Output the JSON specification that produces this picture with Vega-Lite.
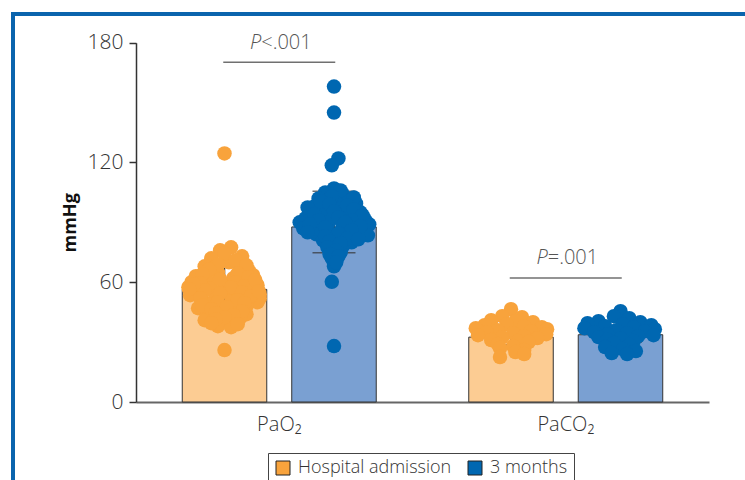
{
  "$schema": "https://vega.github.io/schema/vega-lite/v6.json",
  "width": 740,
  "height": 480,
  "autosize": {"type": "none"},
  "padding": {"left": 13, "top": 14, "right": 0, "bottom": 0},
  "background": "white",
  "config": {"view": {"stroke": "#0a64ad", "strokeWidth": 4}, "font": "Open Sans"},
  "datasets": {
    "summary": [
      {"variable": "PaO₂", "group": "Hospital admission", "mean": 56.4, "lo": 43.5, "hi": 69.6},
      {"variable": "PaO₂", "group": "3 months", "mean": 87.7, "lo": 74.8, "hi": 105.6},
      {"variable": "PaCO₂", "group": "Hospital admission", "mean": 32.5, "lo": 28.5, "hi": 37},
      {"variable": "PaCO₂", "group": "3 months", "mean": 33.7, "lo": 30, "hi": 37.5}
    ],
    "annot": [
      {"variable": "PaO₂", "ly": 170.2, "ty": 179.6, "label": "<.001"},
      {"variable": "PaCO₂", "ly": 62.1, "ty": 72, "label": "=.001"}
    ],
    "points": [
      {"variable": "PaO₂", "group": "Hospital admission", "value": 124.5, "jitter": 0},
      {"variable": "PaO₂", "group": "Hospital admission", "value": 26, "jitter": 0},
      {"variable": "PaO₂", "group": "Hospital admission", "value": 77.5, "jitter": 0.15},
      {"variable": "PaO₂", "group": "Hospital admission", "value": 76, "jitter": -0.1},
      {"variable": "PaO₂", "group": "Hospital admission", "value": 73, "jitter": 0.4},
      {"variable": "PaO₂", "group": "Hospital admission", "value": 72, "jitter": -0.3},
      {"variable": "PaO₂", "group": "Hospital admission", "value": 70, "jitter": 0.1},
      {"variable": "PaO₂", "group": "Hospital admission", "value": 68, "jitter": -0.45},
      {"variable": "PaO₂", "group": "Hospital admission", "value": 67, "jitter": 0.35},
      {"variable": "PaO₂", "group": "Hospital admission", "value": 66, "jitter": 0.55},
      {"variable": "PaO₂", "group": "Hospital admission", "value": 65, "jitter": -0.15},
      {"variable": "PaO₂", "group": "Hospital admission", "value": 63.5, "jitter": 0.65},
      {"variable": "PaO₂", "group": "Hospital admission", "value": 63, "jitter": -0.65},
      {"variable": "PaO₂", "group": "Hospital admission", "value": 62, "jitter": 0.2},
      {"variable": "PaO₂", "group": "Hospital admission", "value": 61, "jitter": -0.4},
      {"variable": "PaO₂", "group": "Hospital admission", "value": 60.5, "jitter": 0.45},
      {"variable": "PaO₂", "group": "Hospital admission", "value": 60, "jitter": -0.75},
      {"variable": "PaO₂", "group": "Hospital admission", "value": 59, "jitter": 0.0},
      {"variable": "PaO₂", "group": "Hospital admission", "value": 58.5, "jitter": 0.75},
      {"variable": "PaO₂", "group": "Hospital admission", "value": 57.5, "jitter": -0.82},
      {"variable": "PaO₂", "group": "Hospital admission", "value": 57, "jitter": -0.3},
      {"variable": "PaO₂", "group": "Hospital admission", "value": 56.5, "jitter": 0.35},
      {"variable": "PaO₂", "group": "Hospital admission", "value": 56, "jitter": 0.6},
      {"variable": "PaO₂", "group": "Hospital admission", "value": 55.5, "jitter": -0.6},
      {"variable": "PaO₂", "group": "Hospital admission", "value": 55, "jitter": 0.1},
      {"variable": "PaO₂", "group": "Hospital admission", "value": 54, "jitter": 0.8},
      {"variable": "PaO₂", "group": "Hospital admission", "value": 53.5, "jitter": -0.78},
      {"variable": "PaO₂", "group": "Hospital admission", "value": 53, "jitter": -0.2},
      {"variable": "PaO₂", "group": "Hospital admission", "value": 52.5, "jitter": 0.45},
      {"variable": "PaO₂", "group": "Hospital admission", "value": 52, "jitter": 0.8},
      {"variable": "PaO₂", "group": "Hospital admission", "value": 51, "jitter": -0.5},
      {"variable": "PaO₂", "group": "Hospital admission", "value": 50.5, "jitter": 0.15},
      {"variable": "PaO₂", "group": "Hospital admission", "value": 50, "jitter": 0.75},
      {"variable": "PaO₂", "group": "Hospital admission", "value": 49, "jitter": -0.3},
      {"variable": "PaO₂", "group": "Hospital admission", "value": 48, "jitter": 0.5},
      {"variable": "PaO₂", "group": "Hospital admission", "value": 47, "jitter": -0.6},
      {"variable": "PaO₂", "group": "Hospital admission", "value": 46, "jitter": 0.25},
      {"variable": "PaO₂", "group": "Hospital admission", "value": 45, "jitter": -0.1},
      {"variable": "PaO₂", "group": "Hospital admission", "value": 44, "jitter": 0.5},
      {"variable": "PaO₂", "group": "Hospital admission", "value": 43, "jitter": -0.4},
      {"variable": "PaO₂", "group": "Hospital admission", "value": 42, "jitter": 0.35},
      {"variable": "PaO₂", "group": "Hospital admission", "value": 41, "jitter": -0.45},
      {"variable": "PaO₂", "group": "Hospital admission", "value": 40, "jitter": 0.1},
      {"variable": "PaO₂", "group": "Hospital admission", "value": 38, "jitter": -0.15},
      {"variable": "PaO₂", "group": "Hospital admission", "value": 37.5, "jitter": 0.15},
      {"variable": "PaO₂", "group": "Hospital admission", "value": 74.5, "jitter": 0.0},
      {"variable": "PaO₂", "group": "Hospital admission", "value": 71, "jitter": 0.25},
      {"variable": "PaO₂", "group": "Hospital admission", "value": 69, "jitter": -0.15},
      {"variable": "PaO₂", "group": "Hospital admission", "value": 68.5, "jitter": 0.5},
      {"variable": "PaO₂", "group": "Hospital admission", "value": 66.5, "jitter": -0.35},
      {"variable": "PaO₂", "group": "Hospital admission", "value": 64.5, "jitter": 0.3},
      {"variable": "PaO₂", "group": "Hospital admission", "value": 64, "jitter": -0.5},
      {"variable": "PaO₂", "group": "Hospital admission", "value": 62.5, "jitter": 0.55},
      {"variable": "PaO₂", "group": "Hospital admission", "value": 61.5, "jitter": -0.1},
      {"variable": "PaO₂", "group": "Hospital admission", "value": 60, "jitter": 0.25},
      {"variable": "PaO₂", "group": "Hospital admission", "value": 59.5, "jitter": -0.55},
      {"variable": "PaO₂", "group": "Hospital admission", "value": 58, "jitter": 0.45},
      {"variable": "PaO₂", "group": "Hospital admission", "value": 57.5, "jitter": 0.15},
      {"variable": "PaO₂", "group": "Hospital admission", "value": 56, "jitter": -0.45},
      {"variable": "PaO₂", "group": "Hospital admission", "value": 55, "jitter": 0.4},
      {"variable": "PaO₂", "group": "Hospital admission", "value": 54.5, "jitter": -0.1},
      {"variable": "PaO₂", "group": "Hospital admission", "value": 53, "jitter": 0.6},
      {"variable": "PaO₂", "group": "Hospital admission", "value": 52, "jitter": -0.55},
      {"variable": "PaO₂", "group": "Hospital admission", "value": 51, "jitter": 0.3},
      {"variable": "PaO₂", "group": "Hospital admission", "value": 50, "jitter": -0.15},
      {"variable": "PaO₂", "group": "Hospital admission", "value": 49.5, "jitter": 0.45},
      {"variable": "PaO₂", "group": "Hospital admission", "value": 48.5, "jitter": -0.5},
      {"variable": "PaO₂", "group": "Hospital admission", "value": 47.5, "jitter": 0.05},
      {"variable": "PaO₂", "group": "Hospital admission", "value": 46.5, "jitter": -0.3},
      {"variable": "PaO₂", "group": "Hospital admission", "value": 45.5, "jitter": 0.4},
      {"variable": "PaO₂", "group": "Hospital admission", "value": 44.5, "jitter": -0.2},
      {"variable": "PaO₂", "group": "Hospital admission", "value": 43.5, "jitter": 0.2},
      {"variable": "PaO₂", "group": "Hospital admission", "value": 42.5, "jitter": 0.0},
      {"variable": "PaO₂", "group": "Hospital admission", "value": 41.5, "jitter": -0.2},
      {"variable": "PaO₂", "group": "Hospital admission", "value": 39.5, "jitter": -0.3},
      {"variable": "PaO₂", "group": "Hospital admission", "value": 39, "jitter": 0.3},
      {"variable": "PaO₂", "group": "Hospital admission", "value": 61, "jitter": 0.7},
      {"variable": "PaO₂", "group": "Hospital admission", "value": 59, "jitter": -0.7},
      {"variable": "PaO₂", "group": "Hospital admission", "value": 55.5, "jitter": 0.78},
      {"variable": "PaO₂", "group": "Hospital admission", "value": 56.5, "jitter": -0.8},

      {"variable": "PaO₂", "group": "3 months", "value": 158, "jitter": 0},
      {"variable": "PaO₂", "group": "3 months", "value": 145, "jitter": 0},
      {"variable": "PaO₂", "group": "3 months", "value": 122, "jitter": 0.1},
      {"variable": "PaO₂", "group": "3 months", "value": 118.6, "jitter": -0.05},
      {"variable": "PaO₂", "group": "3 months", "value": 60.2, "jitter": -0.05},
      {"variable": "PaO₂", "group": "3 months", "value": 28, "jitter": 0},
      {"variable": "PaO₂", "group": "3 months", "value": 107, "jitter": 0.0},
      {"variable": "PaO₂", "group": "3 months", "value": 105, "jitter": -0.2},
      {"variable": "PaO₂", "group": "3 months", "value": 104, "jitter": 0.2},
      {"variable": "PaO₂", "group": "3 months", "value": 102, "jitter": -0.35},
      {"variable": "PaO₂", "group": "3 months", "value": 101, "jitter": 0.35},
      {"variable": "PaO₂", "group": "3 months", "value": 100, "jitter": 0.05},
      {"variable": "PaO₂", "group": "3 months", "value": 99.5, "jitter": 0.5},
      {"variable": "PaO₂", "group": "3 months", "value": 98, "jitter": -0.45},
      {"variable": "PaO₂", "group": "3 months", "value": 97, "jitter": 0.15},
      {"variable": "PaO₂", "group": "3 months", "value": 96, "jitter": -0.55},
      {"variable": "PaO₂", "group": "3 months", "value": 95, "jitter": 0.6},
      {"variable": "PaO₂", "group": "3 months", "value": 94.5, "jitter": -0.2},
      {"variable": "PaO₂", "group": "3 months", "value": 93, "jitter": 0.35},
      {"variable": "PaO₂", "group": "3 months", "value": 92, "jitter": -0.65},
      {"variable": "PaO₂", "group": "3 months", "value": 91.5, "jitter": 0.7},
      {"variable": "PaO₂", "group": "3 months", "value": 90.5, "jitter": -0.1},
      {"variable": "PaO₂", "group": "3 months", "value": 90, "jitter": -0.78},
      {"variable": "PaO₂", "group": "3 months", "value": 89.5, "jitter": 0.45},
      {"variable": "PaO₂", "group": "3 months", "value": 89, "jitter": 0.8},
      {"variable": "PaO₂", "group": "3 months", "value": 88.5, "jitter": -0.45},
      {"variable": "PaO₂", "group": "3 months", "value": 88, "jitter": 0.2},
      {"variable": "PaO₂", "group": "3 months", "value": 87, "jitter": -0.7},
      {"variable": "PaO₂", "group": "3 months", "value": 86.5, "jitter": 0.6},
      {"variable": "PaO₂", "group": "3 months", "value": 86, "jitter": -0.15},
      {"variable": "PaO₂", "group": "3 months", "value": 85, "jitter": 0.3},
      {"variable": "PaO₂", "group": "3 months", "value": 84, "jitter": -0.4},
      {"variable": "PaO₂", "group": "3 months", "value": 83.5, "jitter": 0.77},
      {"variable": "PaO₂", "group": "3 months", "value": 82.5, "jitter": 0.05},
      {"variable": "PaO₂", "group": "3 months", "value": 81, "jitter": -0.25},
      {"variable": "PaO₂", "group": "3 months", "value": 80, "jitter": 0.4},
      {"variable": "PaO₂", "group": "3 months", "value": 79, "jitter": -0.1},
      {"variable": "PaO₂", "group": "3 months", "value": 78, "jitter": 0.2},
      {"variable": "PaO₂", "group": "3 months", "value": 76.5, "jitter": -0.05},
      {"variable": "PaO₂", "group": "3 months", "value": 75, "jitter": 0.15},
      {"variable": "PaO₂", "group": "3 months", "value": 72, "jitter": -0.05},
      {"variable": "PaO₂", "group": "3 months", "value": 68, "jitter": 0.0},
      {"variable": "PaO₂", "group": "3 months", "value": 106, "jitter": 0.15},
      {"variable": "PaO₂", "group": "3 months", "value": 103, "jitter": -0.05},
      {"variable": "PaO₂", "group": "3 months", "value": 102.5, "jitter": 0.45},
      {"variable": "PaO₂", "group": "3 months", "value": 100.5, "jitter": -0.3},
      {"variable": "PaO₂", "group": "3 months", "value": 99, "jitter": -0.1},
      {"variable": "PaO₂", "group": "3 months", "value": 98.5, "jitter": 0.3},
      {"variable": "PaO₂", "group": "3 months", "value": 97.5, "jitter": -0.6},
      {"variable": "PaO₂", "group": "3 months", "value": 96.5, "jitter": 0.45},
      {"variable": "PaO₂", "group": "3 months", "value": 95.5, "jitter": 0.0},
      {"variable": "PaO₂", "group": "3 months", "value": 94, "jitter": -0.45},
      {"variable": "PaO₂", "group": "3 months", "value": 93.5, "jitter": 0.65},
      {"variable": "PaO₂", "group": "3 months", "value": 92.5, "jitter": 0.1},
      {"variable": "PaO₂", "group": "3 months", "value": 91, "jitter": -0.35},
      {"variable": "PaO₂", "group": "3 months", "value": 91, "jitter": 0.4},
      {"variable": "PaO₂", "group": "3 months", "value": 90, "jitter": 0.25},
      {"variable": "PaO₂", "group": "3 months", "value": 89, "jitter": -0.55},
      {"variable": "PaO₂", "group": "3 months", "value": 88, "jitter": 0.6},
      {"variable": "PaO₂", "group": "3 months", "value": 87.5, "jitter": -0.2},
      {"variable": "PaO₂", "group": "3 months", "value": 86, "jitter": 0.4},
      {"variable": "PaO₂", "group": "3 months", "value": 85, "jitter": -0.6},
      {"variable": "PaO₂", "group": "3 months", "value": 84.5, "jitter": 0.1},
      {"variable": "PaO₂", "group": "3 months", "value": 83, "jitter": -0.2},
      {"variable": "PaO₂", "group": "3 months", "value": 82, "jitter": 0.3},
      {"variable": "PaO₂", "group": "3 months", "value": 81.5, "jitter": 0.55},
      {"variable": "PaO₂", "group": "3 months", "value": 80.5, "jitter": -0.1},
      {"variable": "PaO₂", "group": "3 months", "value": 79.5, "jitter": 0.15},
      {"variable": "PaO₂", "group": "3 months", "value": 77.5, "jitter": -0.15},
      {"variable": "PaO₂", "group": "3 months", "value": 76, "jitter": 0.05},
      {"variable": "PaO₂", "group": "3 months", "value": 74, "jitter": -0.1},
      {"variable": "PaO₂", "group": "3 months", "value": 73, "jitter": 0.1},
      {"variable": "PaO₂", "group": "3 months", "value": 70, "jitter": 0.05},

      {"variable": "PaCO₂", "group": "Hospital admission", "value": 46.5, "jitter": 0.0},
      {"variable": "PaCO₂", "group": "Hospital admission", "value": 43, "jitter": -0.2},
      {"variable": "PaCO₂", "group": "Hospital admission", "value": 42.5, "jitter": 0.25},
      {"variable": "PaCO₂", "group": "Hospital admission", "value": 41, "jitter": -0.45},
      {"variable": "PaCO₂", "group": "Hospital admission", "value": 40.5, "jitter": 0.1},
      {"variable": "PaCO₂", "group": "Hospital admission", "value": 40, "jitter": 0.5},
      {"variable": "PaCO₂", "group": "Hospital admission", "value": 39, "jitter": -0.1},
      {"variable": "PaCO₂", "group": "Hospital admission", "value": 38.5, "jitter": -0.6},
      {"variable": "PaCO₂", "group": "Hospital admission", "value": 38, "jitter": 0.3},
      {"variable": "PaCO₂", "group": "Hospital admission", "value": 37.5, "jitter": 0.7},
      {"variable": "PaCO₂", "group": "Hospital admission", "value": 37, "jitter": -0.8},
      {"variable": "PaCO₂", "group": "Hospital admission", "value": 36.5, "jitter": 0.82},
      {"variable": "PaCO₂", "group": "Hospital admission", "value": 36, "jitter": -0.3},
      {"variable": "PaCO₂", "group": "Hospital admission", "value": 35.5, "jitter": 0.45},
      {"variable": "PaCO₂", "group": "Hospital admission", "value": 35, "jitter": -0.55},
      {"variable": "PaCO₂", "group": "Hospital admission", "value": 34.5, "jitter": 0.05},
      {"variable": "PaCO₂", "group": "Hospital admission", "value": 34, "jitter": 0.8},
      {"variable": "PaCO₂", "group": "Hospital admission", "value": 33.5, "jitter": -0.75},
      {"variable": "PaCO₂", "group": "Hospital admission", "value": 33, "jitter": 0.3},
      {"variable": "PaCO₂", "group": "Hospital admission", "value": 32.5, "jitter": -0.2},
      {"variable": "PaCO₂", "group": "Hospital admission", "value": 32, "jitter": 0.6},
      {"variable": "PaCO₂", "group": "Hospital admission", "value": 31, "jitter": -0.45},
      {"variable": "PaCO₂", "group": "Hospital admission", "value": 30.5, "jitter": 0.15},
      {"variable": "PaCO₂", "group": "Hospital admission", "value": 30, "jitter": 0.4},
      {"variable": "PaCO₂", "group": "Hospital admission", "value": 29, "jitter": -0.3},
      {"variable": "PaCO₂", "group": "Hospital admission", "value": 28, "jitter": 0.05},
      {"variable": "PaCO₂", "group": "Hospital admission", "value": 27, "jitter": -0.25},
      {"variable": "PaCO₂", "group": "Hospital admission", "value": 26, "jitter": 0.3},
      {"variable": "PaCO₂", "group": "Hospital admission", "value": 25, "jitter": 0.1},
      {"variable": "PaCO₂", "group": "Hospital admission", "value": 24, "jitter": 0.3},
      {"variable": "PaCO₂", "group": "Hospital admission", "value": 22.5, "jitter": -0.25},

      {"variable": "PaCO₂", "group": "3 months", "value": 45.5, "jitter": 0.0},
      {"variable": "PaCO₂", "group": "3 months", "value": 43, "jitter": -0.15},
      {"variable": "PaCO₂", "group": "3 months", "value": 42, "jitter": 0.2},
      {"variable": "PaCO₂", "group": "3 months", "value": 40.5, "jitter": -0.5},
      {"variable": "PaCO₂", "group": "3 months", "value": 40, "jitter": 0.45},
      {"variable": "PaCO₂", "group": "3 months", "value": 39.5, "jitter": -0.75},
      {"variable": "PaCO₂", "group": "3 months", "value": 39, "jitter": 0.05},
      {"variable": "PaCO₂", "group": "3 months", "value": 38.5, "jitter": 0.7},
      {"variable": "PaCO₂", "group": "3 months", "value": 38, "jitter": -0.35},
      {"variable": "PaCO₂", "group": "3 months", "value": 37.5, "jitter": 0.3},
      {"variable": "PaCO₂", "group": "3 months", "value": 37, "jitter": -0.82},
      {"variable": "PaCO₂", "group": "3 months", "value": 36.5, "jitter": 0.78},
      {"variable": "PaCO₂", "group": "3 months", "value": 36, "jitter": -0.1},
      {"variable": "PaCO₂", "group": "3 months", "value": 35.5, "jitter": 0.55},
      {"variable": "PaCO₂", "group": "3 months", "value": 35, "jitter": -0.6},
      {"variable": "PaCO₂", "group": "3 months", "value": 34.5, "jitter": 0.15},
      {"variable": "PaCO₂", "group": "3 months", "value": 34, "jitter": -0.3},
      {"variable": "PaCO₂", "group": "3 months", "value": 33.5, "jitter": 0.75},
      {"variable": "PaCO₂", "group": "3 months", "value": 33, "jitter": 0.4},
      {"variable": "PaCO₂", "group": "3 months", "value": 32.5, "jitter": -0.5},
      {"variable": "PaCO₂", "group": "3 months", "value": 32, "jitter": 0.0},
      {"variable": "PaCO₂", "group": "3 months", "value": 31, "jitter": -0.3},
      {"variable": "PaCO₂", "group": "3 months", "value": 30.5, "jitter": 0.3},
      {"variable": "PaCO₂", "group": "3 months", "value": 29.5, "jitter": -0.15},
      {"variable": "PaCO₂", "group": "3 months", "value": 28.5, "jitter": 0.2},
      {"variable": "PaCO₂", "group": "3 months", "value": 27.5, "jitter": -0.35},
      {"variable": "PaCO₂", "group": "3 months", "value": 26.5, "jitter": 0.05},
      {"variable": "PaCO₂", "group": "3 months", "value": 25.5, "jitter": 0.35},
      {"variable": "PaCO₂", "group": "3 months", "value": 24.5, "jitter": -0.2},
      {"variable": "PaCO₂", "group": "3 months", "value": 24, "jitter": 0.15}
    ]
  },
  "layer": [
    {
      "data": {"name": "summary"},
      "mark": {"type": "bar", "stroke": "#333", "strokeWidth": 1},
      "encoding": {
        "x": {
          "field": "variable", "type": "nominal",
          "scale": {"domain": ["PaO₂", "PaCO₂"], "range": [123, 696], "paddingInner": 0, "paddingOuter": 0},
          "axis": {"title": null, "labelAngle": 0, "ticks": false, "domainColor": "#666", "domainWidth": 2, "offset": -92, "labelFontSize": 20, "labelColor": "#333", "labelPadding": 12, "labelFont": "Open Sans", "labelFontWeight": 300}
        },
        "xOffset": {
          "field": "group", "type": "nominal",
          "scale": {"domain": ["Hospital admission", "3 months"], "paddingInner": 0.2283, "paddingOuter": 0.4224}
        },
        "y": {
          "field": "mean", "type": "quantitative",
          "scale": {"domain": [0, 180], "range": [388, 28.7], "nice": false, "zero": true},
          "axis": {"values": [0, 60, 120, 180], "title": "mmHg", "titleFontSize": 18, "titleFontWeight": "bold", "titleColor": "#111", "grid": false, "offset": -123, "domainColor": "#333", "domainWidth": 1.5, "tickColor": "#333", "tickWidth": 1.5, "tickSize": 7, "labelFontSize": 21, "labelColor": "#333", "labelPadding": 6, "titlePadding": 8, "labelFont": "Open Sans", "labelFontWeight": 300, "titleFont": "Open Sans"}
        },
        "fill": {
          "field": "group", "type": "nominal",
          "scale": {"range": ["#7aa0d2", "#fccc93"]},
          "legend": null
        }
      }
    },
    {
      "data": {"name": "summary"},
      "mark": {"type": "rule", "color": "#333", "strokeWidth": 1.5},
      "encoding": {
        "x": {"field": "variable", "type": "nominal"},
        "xOffset": {"field": "group", "type": "nominal", "scale": {"domain": ["Hospital admission", "3 months"], "paddingInner": 0.2283, "paddingOuter": 0.4224}},
        "y": {"field": "lo", "type": "quantitative"},
        "y2": {"field": "hi"}
      }
    },
    {
      "data": {"name": "summary"},
      "mark": {"type": "tick", "color": "#333", "size": 43, "thickness": 1.5},
      "encoding": {
        "x": {"field": "variable", "type": "nominal"},
        "xOffset": {"field": "group", "type": "nominal", "scale": {"domain": ["Hospital admission", "3 months"], "paddingInner": 0.2283, "paddingOuter": 0.4224}},
        "y": {"field": "lo", "type": "quantitative"}
      }
    },
    {
      "data": {"name": "summary"},
      "mark": {"type": "tick", "color": "#333", "size": 43, "thickness": 1.5},
      "encoding": {
        "x": {"field": "variable", "type": "nominal"},
        "xOffset": {"field": "group", "type": "nominal", "scale": {"domain": ["Hospital admission", "3 months"], "paddingInner": 0.2283, "paddingOuter": 0.4224}},
        "y": {"field": "hi", "type": "quantitative"}
      }
    },
    {
      "data": {"name": "points"},
      "transform": [{"filter": "datum.group === 'Hospital admission'"}],
      "mark": {"type": "circle", "size": 210, "opacity": 1},
      "encoding": {
        "x": {"field": "variable", "type": "nominal"},
        "xOffset": {"field": "jitter", "type": "quantitative", "scale": {"domain": [-2.011, 4.5], "nice": false, "zero": false}},
        "y": {"field": "value", "type": "quantitative"},
        "color": {
          "field": "group", "type": "nominal",
          "scale": {"domain": ["Hospital admission", "3 months"], "range": ["#f8a33c", "#0067b1"]},
          "legend": {"orient": "none", "legendX": 255, "legendY": 439, "direction": "horizontal", "title": null, "symbolType": "square", "symbolSize": 196, "symbolStrokeColor": "#222", "symbolStrokeWidth": 1, "symbolOpacity": 1, "labelFontSize": 18, "labelColor": "#333", "labelFont": "Open Sans", "labelFontWeight": 300, "strokeColor": "#444", "fillColor": "white", "padding": 6, "columnPadding": 14, "labelOffset": 6}
        }
      }
    },
    {
      "data": {"name": "points"},
      "transform": [{"filter": "datum.group === '3 months'"}],
      "mark": {"type": "circle", "size": 210, "opacity": 1},
      "encoding": {
        "x": {"field": "variable", "type": "nominal"},
        "xOffset": {"field": "jitter", "type": "quantitative", "scale": {"domain": [-4.5, 2.011], "nice": false, "zero": false}},
        "y": {"field": "value", "type": "quantitative"},
        "color": {
          "field": "group", "type": "nominal",
          "legend": {"orient": "none", "legendX": 255, "legendY": 439, "direction": "horizontal", "title": null, "symbolType": "square", "symbolSize": 196, "symbolStrokeColor": "#222", "symbolStrokeWidth": 1, "symbolOpacity": 1, "labelFontSize": 18, "labelColor": "#333", "labelFont": "Open Sans", "labelFontWeight": 300, "strokeColor": "#444", "fillColor": "white", "padding": 6, "columnPadding": 14, "labelOffset": 6}
        }
      }
    },
    {
      "data": {"name": "annot"},
      "mark": {"type": "tick", "color": "#333", "size": 112, "thickness": 1.5},
      "encoding": {
        "x": {"field": "variable", "type": "nominal"},
        "y": {"field": "ly", "type": "quantitative"}
      }
    },
    {
      "data": {"name": "annot"},
      "mark": {"type": "text", "text": "P", "fontStyle": "italic", "align": "right", "baseline": "middle", "dx": -18, "fontSize": 20, "fontWeight": 300, "color": "#555", "font": "Open Sans"},
      "encoding": {
        "x": {"field": "variable", "type": "nominal"},
        "y": {"field": "ty", "type": "quantitative"}
      }
    },
    {
      "data": {"name": "annot"},
      "mark": {"type": "text", "align": "left", "baseline": "middle", "dx": -18, "fontSize": 20, "fontWeight": 300, "color": "#555", "font": "Open Sans"},
      "encoding": {
        "x": {"field": "variable", "type": "nominal"},
        "y": {"field": "ty", "type": "quantitative"},
        "text": {"field": "label"}
      }
    }
  ],
  "resolve": {"scale": {"xOffset": "independent"}}
}
